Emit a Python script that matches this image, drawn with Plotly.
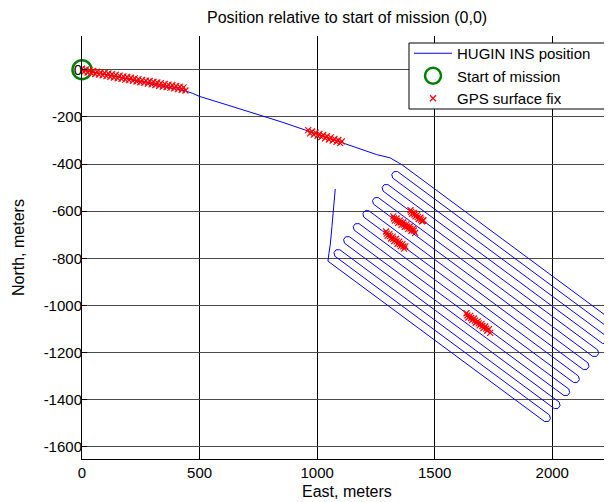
import plotly.graph_objects as go

# ---------------- data (meters) ----------------
# HUGIN INS navigated track: transit + lawnmower survey
ins_east = [0, 100, 200, 300, 380, 440, 470, 499, 600, 700, 850, 962, 1040, 1105,
            1180, 1253, 1311, 1339,
            1362.4, 2275.1, 2279.1, 2270.5,
            2254.6, 1341.9, 1326.0, 1317.4,
            1321.4, 2234.1, 2238.1, 2229.5,
            2213.6, 1300.9, 1285.0, 1276.4,
            1280.5, 2193.2, 2197.2, 2188.6,
            2172.7, 1260.0, 1244.1, 1235.5,
            1239.5, 2152.2, 2156.2, 2147.6,
            2131.7, 1219.0, 1203.1, 1194.5,
            1198.5, 2111.2, 2115.2, 2106.6,
            2090.7, 1178.0, 1162.1, 1153.5,
            1157.5, 2070.2, 2074.2, 2065.6,
            2049.7, 1137.0, 1121.1, 1112.5,
            1116.5, 2029.2, 2033.2, 2024.6,
            2008.7, 1096.0, 1080.1, 1071.5,
            1075.5, 1988.2, 1992.2, 1983.6,
            1967.7, 1055.0, 1046, 1050, 1056, 1063, 1070, 1077]
ins_north = [0, -20, -41, -62, -78, -90, -100, -113, -144, -175, -222, -260, -286, -308,
             -335, -360, -374, -389,
             -404.2, -1078.0, -1093.3, -1104.9,
             -1105.7, -431.9, -432.6, -444.2,
             -459.5, -1133.3, -1148.6, -1160.2,
             -1160.9, -487.1, -487.8, -499.4,
             -514.7, -1188.5, -1203.8, -1215.4,
             -1216.1, -542.3, -543.0, -554.6,
             -570.0, -1243.8, -1259.1, -1270.7,
             -1271.4, -597.6, -598.3, -609.9,
             -625.2, -1299.0, -1314.3, -1325.9,
             -1326.6, -652.8, -653.5, -665.1,
             -680.4, -1354.2, -1369.5, -1381.1,
             -1381.9, -708.1, -708.8, -720.4,
             -735.7, -1409.5, -1424.8, -1436.4,
             -1437.1, -763.3, -764.0, -775.6,
             -790.9, -1464.7, -1480.0, -1491.6,
             -1492.3, -818.5, -812, -780, -740, -665, -565, -506]

start_east = [0]
start_north = [0]

# GPS surface fixes (clusters)
gps_east = [
    # near start
    0, 8, 16, 24, 32, 40, 48, 56, 64, 72, 80, 88, 96, 104, 112, 120, 128, 136, 144, 152,
    160, 168, 176, 184, 192, 200, 208, 216, 224, 232, 240, 248, 256, 264, 272, 280, 288,
    296, 304, 312, 320, 328, 336, 344, 352, 360, 368, 376, 384, 392, 400, 408, 416, 424,
    432, 440,
    # around 1000 m east
    962, 970, 978, 986, 994, 1002, 1010, 1018, 1026, 1034, 1042, 1050, 1058, 1066, 1074,
    1082, 1090, 1098, 1105,
    # survey area
    1397, 1404, 1411, 1418, 1425, 1432, 1439, 1446, 1452, 1400, 1414, 1428, 1442, 1450,
    1324, 1331, 1338, 1345, 1352, 1359, 1366, 1373, 1380, 1387, 1394, 1401, 1408, 1417,
    1327, 1341, 1355, 1369, 1383, 1397, 1411,
    1293, 1300, 1307, 1314, 1321, 1328, 1335, 1342, 1349, 1356, 1363, 1370, 1375,
    1296, 1310, 1324, 1338, 1352, 1366,
    1635, 1643, 1651, 1659, 1667, 1675, 1683, 1691, 1699, 1707, 1715, 1723, 1731, 1736,
    1639, 1655, 1671, 1687, 1703, 1719]
gps_north = [
    4, -10, 1, -12, -2, -15, -5, -18, -8, -21, -11, -24, -14, -27, -16, -30, -19, -33, -22,
    -36, -25, -39, -28, -42, -31, -44, -34, -47, -37, -50, -40, -53, -43, -56, -46, -59,
    -48, -62, -51, -65, -54, -68, -57, -71, -60, -74, -63, -76, -66, -79, -69, -82, -72,
    -85, -75, -88,
    -256, -270, -262, -275, -267, -280, -272, -286, -277, -291, -282, -296, -287, -301,
    -293, -306, -298, -311, -304,
    -596, -611, -607, -622, -617, -633, -628, -643, -638, -603, -614, -625, -636, -641,
    -622, -640, -631, -649, -639, -658, -648, -666, -656, -675, -665, -683, -674, -692,
    -631, -640, -648, -657, -665, -674, -682,
    -686, -705, -697, -716, -708, -727, -718, -738, -729, -748, -740, -759, -749,
    -695, -706, -717, -728, -739, -749,
    -1033, -1051, -1044, -1062, -1055, -1073, -1067, -1084, -1078, -1096, -1089, -1107,
    -1100, -1116,
    -1042, -1053, -1064, -1076, -1087, -1098]

x_ticks = [0, 500, 1000, 1500, 2000]
x_tick_labels = ["0", "500", "1000", "1500", "2000"]
y_ticks = [0, -200, -400, -600, -800, -1000, -1200, -1400, -1600]
y_tick_labels = ["0", "-200", "-400", "-600", "-800", "-1000", "-1200", "-1400", "-1600"]

title_text = "Position relative to start of mission (0,0)"
x_title = "East, meters"
y_title = "North, meters"

# ---------------- figure ----------------
FONT = "Liberation Sans, Arial, sans-serif"
OFF = 8                      # page body margin of the browser
W, H = 612 - OFF, 502 - OFF
# plot area in page pixels: left 82, top 36, right 612, bottom 459
ML, MT = 82 - OFF, 36 - OFF
MR, MB = 0, H - (459 - OFF)
PW, PH = W - ML - MR, H - MT - MB

fig = go.Figure()
fig.add_trace(go.Scatter(x=ins_east, y=ins_north, mode="lines",
                         line=dict(color="#0000ff", width=1),
                         name="HUGIN INS position"))
fig.add_trace(go.Scatter(x=start_east, y=start_north, mode="markers",
                         marker=dict(symbol="circle-open", size=19, color="#008000",
                                     line=dict(width=2.5, color="#008000")),
                         cliponaxis=False, name="Start of mission"))
fig.add_trace(go.Scatter(x=gps_east, y=gps_north, mode="markers",
                         marker=dict(symbol="x-thin", size=6, color="#ff0000",
                                     line=dict(width=1.2, color="#ff0000")),
                         name="GPS surface fix"))


def page_to_paper(px, py):
    """page pixel -> paper coordinates of the plot area"""
    return (px - OFF - ML) / PW, (H - MB - (py - OFF)) / PH


ann = []
tx, ty = page_to_paper(347, 18)
ann.append(dict(text=title_text, x=tx, y=ty, xref="paper", yref="paper",
                showarrow=False, xanchor="center", yanchor="middle",
                font=dict(size=16, color="black", family=FONT)))
tx, ty = page_to_paper(347, 491)
ann.append(dict(text=x_title, x=tx, y=ty, xref="paper", yref="paper",
                showarrow=False, xanchor="center", yanchor="middle",
                font=dict(size=16, color="black", family=FONT)))
tx, ty = page_to_paper(18, 248)
ann.append(dict(text=y_title, x=tx, y=ty, xref="paper", yref="paper",
                showarrow=False, xanchor="center", yanchor="middle", textangle=-90,
                font=dict(size=16, color="black", family=FONT)))

# legend frame (white box with black border)
bx0, by0 = page_to_paper(409, 43)
bx1, by1 = page_to_paper(611, 109)
shapes = [dict(type="rect", xref="paper", yref="paper", x0=bx0, y0=by1, x1=bx1, y1=by0,
               fillcolor="white", line=dict(color="black", width=1), layer="above")]

lx, ly = page_to_paper(409, 37)
fig.update_layout(
    width=W, height=H,
    margin=dict(l=ML, r=MR, t=MT, b=MB, pad=0, autoexpand=False),
    paper_bgcolor="white", plot_bgcolor="white",
    font=dict(family=FONT, size=15, color="black"),
    showlegend=True,
    legend=dict(x=lx, y=ly, xanchor="left", yanchor="top",
                bgcolor="rgba(0,0,0,0)", borderwidth=0,
                font=dict(size=15, family=FONT, color="black"),
                itemwidth=38, tracegroupgap=0),
    annotations=ann,
    shapes=shapes,
)
fig.update_xaxes(range=[0, 2254], tickvals=x_ticks, ticktext=x_tick_labels,
                 showgrid=True, gridcolor="#000000", gridwidth=1,
                 zeroline=False, showline=True, linecolor="black", linewidth=1,
                 ticks="inside", ticklen=5, tickcolor="black",
                 tickfont=dict(size=15, family=FONT, color="black"))
fig.update_yaxes(range=[-1651, 143], tickvals=y_ticks, ticktext=y_tick_labels,
                 showgrid=True, gridcolor="#4a4a4a", gridwidth=1,
                 zeroline=False, showline=True, linecolor="black", linewidth=1,
                 ticks="inside", ticklen=5, tickcolor="black", ticklabelstandoff=-4,
                 tickfont=dict(size=15, family=FONT, color="black"))

fig.write_html("out.html")
